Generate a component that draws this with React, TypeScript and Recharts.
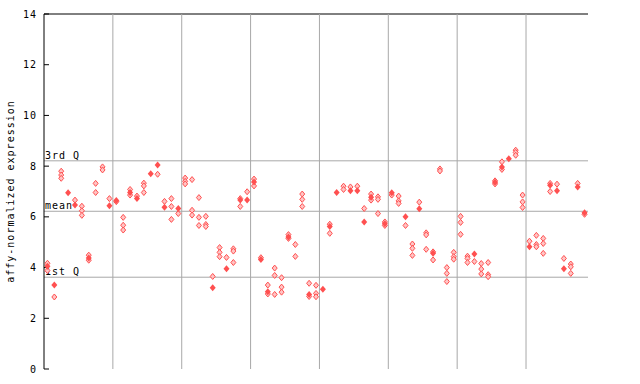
import React from 'react';
import {
  ScatterChart,
  Scatter,
  XAxis,
  YAxis,
  ReferenceLine,
} from 'recharts';

// one column per sample; filled = main probe value, hollow = other probes
const filledValues: (number | null)[] = [
  4.05, 3.31, null, 6.95, 6.47, null, 4.38, null, null, 6.44,
  6.65, null, 6.96, 6.72, null, 7.7, 8.05, 6.38, null, 6.33,
  null, null, null, null, 3.2, null, 3.95, null, 6.66, 6.66,
  7.37, 4.32, 3.05, null, null, 5.21, null, null, 2.94, null,
  3.15, 5.62, 6.96, null, 7.03, 7.03, 5.8, 6.77, null, 5.73,
  6.95, null, 6.0, null, 6.32, null, 4.56, null, null, null,
  null, null, 4.54, null, null, 7.36, 7.97, 8.29, null, null,
  4.82, null, null, 7.25, 7.03, 3.95, null, 7.18, 6.16,
];

const hollowValues: number[][] = [
  [4.17, 3.88], [2.84], [7.8, 7.65, 7.52], [], [6.66],
  [6.42, 6.24, 6.06], [4.49, 4.29], [7.32, 6.96], [7.97, 7.85], [6.72],
  [6.6], [5.98, 5.67, 5.48], [7.08, 6.86], [6.82], [7.33, 7.22, 6.96],
  [], [7.68], [6.61], [6.72, 6.41, 5.9], [6.13],
  [7.53, 7.4, 7.3], [7.47, 6.26, 6.07], [6.76, 5.98, 5.66], [6.02, 5.7, 5.62], [3.65],
  [4.79, 4.6, 4.43], [4.4], [4.74, 4.65, 4.2], [6.72, 6.41], [6.99],
  [7.49, 7.22], [4.39], [3.31, 2.96], [3.98, 3.69, 2.94], [3.6, 3.23, 3.03],
  [5.3, 5.15], [4.91, 4.44], [6.9, 6.69, 6.41], [3.38, 2.86], [3.3, 2.98, 2.85],
  [], [5.71, 5.35], [], [7.21, 7.08], [7.18],
  [7.21], [6.33], [6.9, 6.66], [6.79, 6.69, 6.13], [5.8, 5.66],
  [6.86], [6.82, 6.63, 6.53], [5.66], [4.93, 4.76, 4.48], [6.58],
  [5.37, 5.29, 4.72], [4.62, 4.3], [7.89, 7.81], [4.0, 3.77, 3.45], [4.6, 4.43, 4.33],
  [6.02, 5.78, 5.31], [4.45, 4.36, 4.2], [4.24], [4.16, 3.94, 3.75], [4.2, 3.72, 3.64],
  [7.42, 7.3], [8.17, 7.87], [], [8.63, 8.54, 8.43], [6.86, 6.59, 6.37],
  [5.04], [5.27, 4.91, 4.82], [5.15, 4.95, 4.56], [7.32, 7.0], [7.29],
  [4.36], [4.14, 4.03, 3.77], [7.32], [6.1],
];

const yTicks = [0, 2, 4, 6, 8, 10, 12, 14];
const groupLines = [10, 20, 30, 40, 50, 60, 70];
const quartiles = [
  { label: '3rd Q', value: 8.21 },
  { label: 'mean', value: 6.22 },
  { label: '1st Q', value: 3.62 },
];

const RED = '#ff5050';
const FONT = '"DejaVu Sans Mono", monospace';

const filledData = filledValues
  .map((v, i) => ({ x: i + 0.5, y: v }))
  .filter((d) => d.y !== null);

const hollowData = hollowValues.flatMap((vals, i) =>
  vals.map((v) => ({ x: i + 0.5, y: v }))
);

const FilledDiamond = (props: any) => {
  const { cx, cy } = props;
  return (
    <polygon
      points={`${cx},${cy - 3.5} ${cx + 3},${cy} ${cx},${cy + 3.5} ${cx - 3},${cy}`}
      fill={RED}
    />
  );
};

const HollowDiamond = (props: any) => {
  const { cx, cy } = props;
  return (
    <polygon
      points={`${cx},${cy - 3} ${cx + 2.5},${cy} ${cx},${cy + 3} ${cx - 2.5},${cy}`}
      fill="#ffc4c4"
      stroke={RED}
      strokeWidth={1}
    />
  );
};

export default function App() {
  return (
    <div style={{ position: 'fixed', left: 0, top: 0, background: '#fff' }}>
      <ScatterChart
        width={640}
        height={384}
        margin={{ top: 14, right: 52, bottom: 15, left: 0 }}
      >
        <XAxis
          type="number"
          dataKey="x"
          domain={[0, 79]}
          ticks={[]}
          tick={false}
          height={0}
          axisLine={{ stroke: '#000' }}
        />
        <YAxis
          yAxisId="left"
          type="number"
          dataKey="y"
          domain={[0, 14]}
          ticks={yTicks}
          width={44}
          tickSize={-5}
          tickMargin={12}
          axisLine={{ stroke: '#000' }}
          tickLine={{ stroke: '#000' }}
          tick={{ fill: '#000', fontSize: 10, fontFamily: FONT, letterSpacing: 1 }}
          label={({ viewBox }: any) => (
            <text
              x={viewBox.x + 14}
              y={viewBox.y + viewBox.height / 2}
              transform={`rotate(-90 ${viewBox.x + 14} ${viewBox.y + viewBox.height / 2})`}
              textAnchor="middle"
              fontSize={10}
              fontFamily={FONT}
              letterSpacing={1}
              fill="#000"
            >
              affy-normalized expression
            </text>
          )}
        />
        <YAxis
          yAxisId="right"
          orientation="right"
          type="number"
          domain={[0, 14]}
          ticks={yTicks}
          width={0}
          tickSize={-5}
          tickFormatter={() => ''}
          axisLine={{ stroke: '#000' }}
          tickLine={{ stroke: '#000' }}
        />
        <ReferenceLine yAxisId="left" y={14} stroke="#000" />
        {groupLines.map((g) => (
          <ReferenceLine key={g} yAxisId="left" x={g} stroke="#a8a8a8" />
        ))}
        {quartiles.map((q) => (
          <ReferenceLine
            key={q.label}
            yAxisId="left"
            y={q.value}
            stroke="#a8a8a8"
            label={({ viewBox }: any) => (
              <text
                x={viewBox.x + 1}
                y={viewBox.y - 2}
                fontSize={10}
                fontFamily={FONT}
                letterSpacing={1}
                fill="#000"
              >
                {q.label}
              </text>
            )}
          />
        ))}
        <Scatter
          yAxisId="left"
          data={hollowData}
          shape={<HollowDiamond />}
          isAnimationActive={false}
        />
        <Scatter
          yAxisId="left"
          data={filledData}
          shape={<FilledDiamond />}
          isAnimationActive={false}
        />
      </ScatterChart>
    </div>
  );
}
